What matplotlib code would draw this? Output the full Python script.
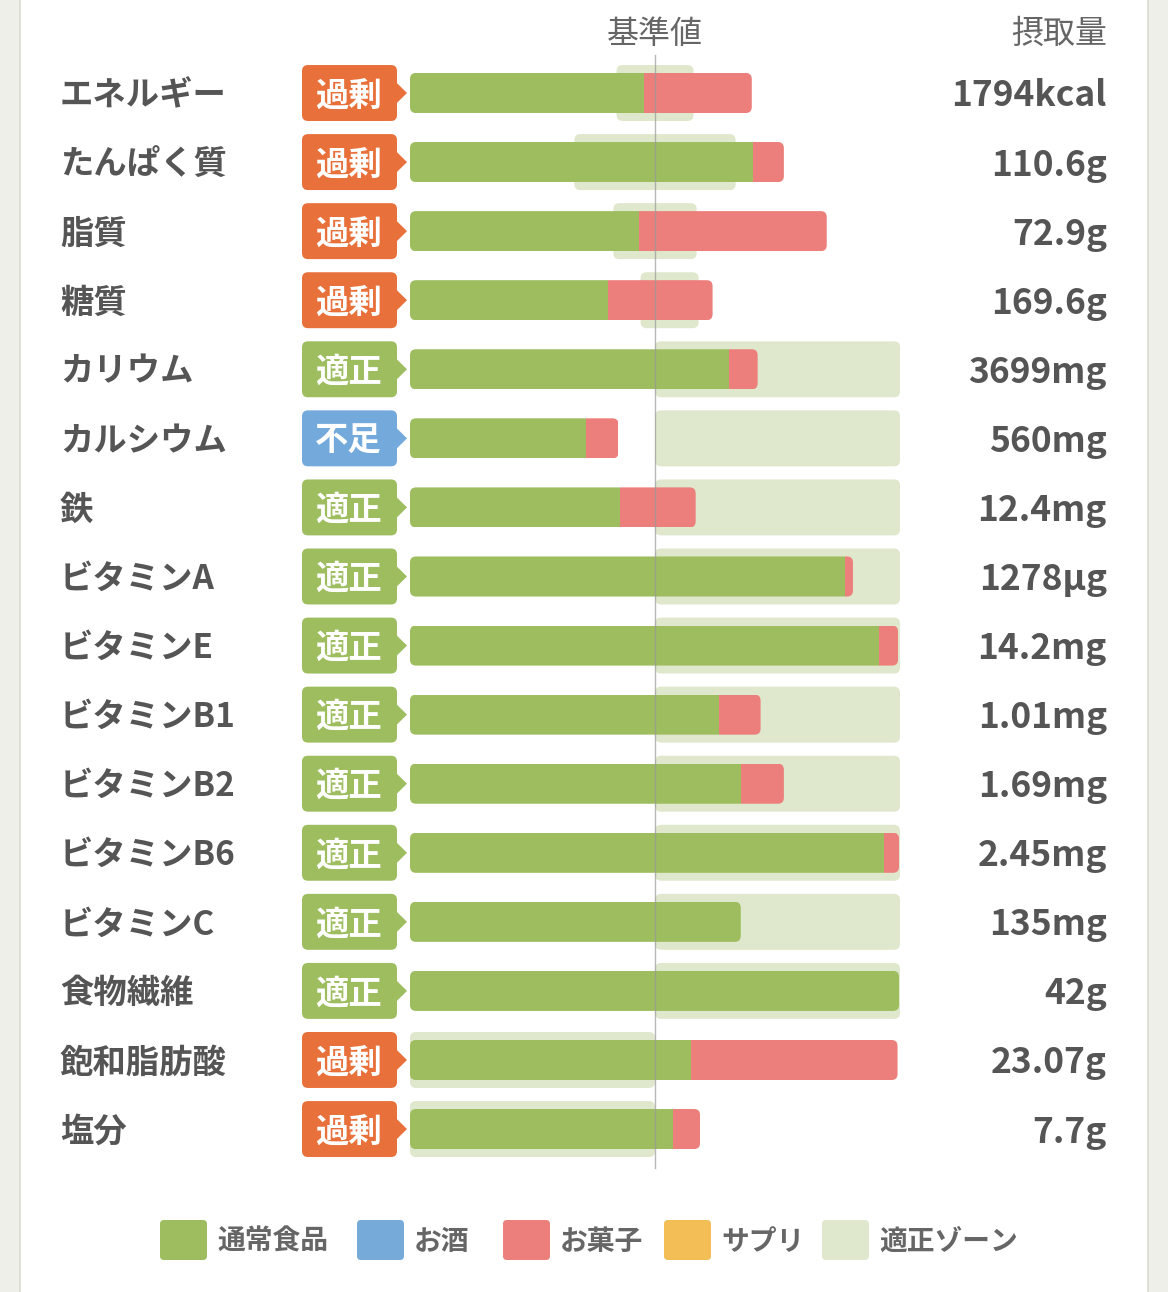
import numpy as np
import matplotlib.pyplot as plt
from matplotlib.patches import FancyBboxPatch, Polygon, Rectangle

plt.rcParams['font.family'] = ['Noto Sans CJK JP', 'DejaVu Sans']

# 栄養素ごとのデータ (基準値 = 100%)
nutrients = ['エネルギー', 'たんぱく質', '脂質', '糖質', 'カリウム', 'カルシウム', '鉄',
             'ビタミンA', 'ビタミンE', 'ビタミンB1', 'ビタミンB2', 'ビタミンB6',
             'ビタミンC', '食物繊維', '飽和脂肪酸', '塩分']
status = ['過剰', '過剰', '過剰', '過剰', '適正', '不足', '適正', '適正', '適正',
          '適正', '適正', '適正', '適正', '適正', '過剰', '過剰']
intake = ['1794kcal', '110.6g', '72.9g', '169.6g', '3699mg', '560mg', '12.4mg',
          '1278µg', '14.2mg', '1.01mg', '1.69mg', '2.45mg', '135mg', '42g',
          '23.07g', '7.7g']
food = [95.7, 139.9, 93.3, 81.0, 130.1, 72.0, 85.9, 177.5, 191.4, 126.0,
        135.0, 193.5, 135.0, 199.6, 114.5, 107.2]
alcohol = [0] * 16
snack = [43.8, 12.7, 76.8, 42.5, 11.8, 13.1, 30.7, 3.3, 7.8, 17.1,
         17.6, 6.1, 0, 0, 84.5, 11.2]
supplement = [0] * 16
zone_lo = [84.3, 67.1, 83.0, 94.1, 100, 100, 100, 100, 100, 100, 100, 100, 100, 100, 0, 0]
zone_hi = [115.7, 132.9, 117.0, 117.8, 200, 200, 200, 200, 200, 200, 200, 200, 200, 200, 100, 100]

legend_labels = ['通常食品', 'お酒', 'お菓子', 'サプリ', '適正ゾーン']
seg_colors = ['#9dbd5f', '#76aad9', '#ec7f7c', '#f2be55']
zone_color = '#dfe8cc'
badge_colors = {'過剰': '#e8703a', '適正': '#9dbd5f', '不足': '#74a9dc'}
text_color = '#555555'

W, H = 1168, 1292
fig = plt.figure(figsize=(W / 100, H / 100), dpi=100)
fig.patch.set_facecolor('white')

# ピクセル座標の下敷き (枠, 見出し, 凡例)
pax = fig.add_axes([0, 0, 1, 1])
pax.set_xlim(0, W)
pax.set_ylim(H, 0)
pax.axis('off')

pax.add_patch(Rectangle((0, 0), 20, H, fc='#efefea', ec='none'))
pax.add_patch(Rectangle((1148, 0), 20, H, fc='#efefea', ec='none'))
pax.plot([20, 20], [0, H], color='#dcdcd5', lw=1.2)
pax.plot([1148, 1148], [0, H], color='#dcdcd5', lw=1.2)

pax.text(655, 34, '基準値', ha='center', va='center', fontsize=23, color='#666666')
pax.text(1107, 34, '摂取量', ha='right', va='center', fontsize=23, color='#666666')

leg_x = [160, 357, 503, 664, 822]
for x, lab, col in zip(leg_x, legend_labels, seg_colors + [zone_color]):
    pax.add_patch(FancyBboxPatch((x, 1220), 47, 40, boxstyle='round,pad=0,rounding_size=4',
                                 fc=col, ec='none'))
    pax.text(x + 57, 1242, lab, ha='left', va='center', fontsize=20,
             fontweight='bold', color='#666666')

# メインの軸: x = 基準値に対する%, y = 行
x0_px, x100_px = 410, 655
sx = (x100_px - x0_px) / 100
row0_px, row_px = 93, 69.07
ax = fig.add_axes([0, 0, 1, 1])
ax.set_xlim(-x0_px / sx, (W - x0_px) / sx)
ax.set_ylim((H - row0_px) / row_px, -row0_px / row_px)
ax.axis('off')

asp = sx / row_px
r = 6 / sx
dy = 3 / row_px  # 文字の縦位置の補正


def rbox(x, y, w, h, **kw):
    return FancyBboxPatch((x, y), w, h, boxstyle=f'round,pad=0,rounding_size={r}',
                          mutation_aspect=asp, **kw)


bar_h = 0.58
zone_h = 0.81
for i in range(len(nutrients)):
    # 適正ゾーン
    ax.add_patch(rbox(zone_lo[i], i - zone_h / 2, zone_hi[i] - zone_lo[i], zone_h,
                      fc=zone_color, ec='none', zorder=1))
    # 積み上げ棒
    segs = [food[i], alcohol[i], snack[i], supplement[i]]
    total = sum(segs)
    clip = rbox(0, i - bar_h / 2, total, bar_h, transform=ax.transData)
    left = 0
    for v, col in zip(segs, seg_colors):
        if v > 0:
            bars = ax.barh(i, v, left=left, height=bar_h, color=col, zorder=2)
            for b in bars:
                b.set_clip_path(clip)
            left += v

    # 判定バッジ
    bc = badge_colors[status[i]]
    bx0, bx1 = (302 - x0_px) / sx, (397 - x0_px) / sx
    ax.add_patch(rbox(bx0, i - zone_h / 2, bx1 - bx0, zone_h, fc=bc, ec='none', zorder=2))
    ax.add_patch(Polygon([(bx1 - 0.5, i - 0.16), ((407 - x0_px) / sx, i), (bx1 - 0.5, i + 0.16)],
                         closed=True, fc=bc, ec='none', zorder=2))
    ax.text((bx0 + bx1) / 2 - 0.5, i + dy, status[i], ha='center', va='center', fontsize=24,
            fontweight='bold', color='white', zorder=3)

    ax.text((60 - x0_px) / sx, i + dy, nutrients[i], ha='left', va='center', fontsize=24,
            fontweight='bold', color=text_color)
    ax.text((1107 - x0_px) / sx, i + dy, intake[i], ha='right', va='center', fontsize=25.5,
            fontweight='bold', color=text_color)

# 基準値の線
ax.plot([100, 100], [-0.55, 15.56], color='#999999', lw=1, alpha=0.7, zorder=4)

fig.savefig('out.png', dpi=100)
